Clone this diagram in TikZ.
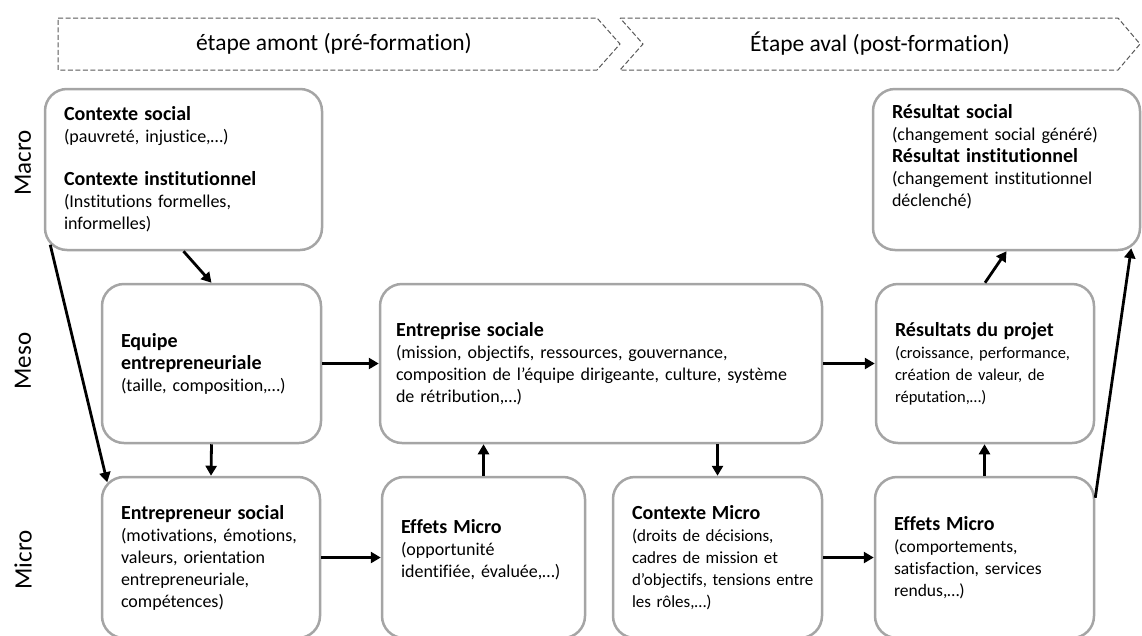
\documentclass[tikz,border=0pt]{standalone}
\usepackage{fontspec}
\setmainfont{Carlito}[Ligatures={NoCommon}]
\usetikzlibrary{arrows.meta}
\definecolor{boxgray}{HTML}{A5A5A5}
\definecolor{dashgray}{HTML}{595959}
\newcommand{\ttl}[1]{{\fontsize{20}{24}\selectfont\bfseries #1}}
\begin{document}
\begin{tikzpicture}[x=1pt,y=-1pt,
  box/.style={draw=boxgray, line width=2.5pt, rounded corners=22pt, fill=white,
    align=left, inner xsep=19pt, inner ysep=0pt,
    font=\fontsize{18}{22}\selectfont},
  arr/.style={line width=2.8pt, -{Triangle[length=10pt,width=11pt]}},
  phase/.style={draw=dashgray, line width=1pt, dash pattern=on 5pt off 2.5pt},
  lvl/.style={rotate=90, font=\fontsize{25}{30}\selectfont},
  phtext/.style={font=\fontsize{23.5}{28}\selectfont}]
\useasboundingbox (0,0) rectangle (1142,635);

% phase chevrons
\draw[phase] (58,18) -- (597,18) -- (620,44) -- (597,70) -- (58,70) -- cycle;
\draw[phase] (620,18) -- (1118,18) -- (1140,44) -- (1118,70) -- (620,70) -- (643,44) -- cycle;
\node[phtext] (amont) at (334,44) {étape amont (pré-formation)};
\node[phtext] (aval) at (880,44) {Étape aval (post-formation)};

% level labels
\node[lvl] (macro) at (23,163) {Macro};
\node[lvl] (meso) at (23,361) {Meso};
\node[lvl] (micro) at (23,560) {Micro};

% macro
\node[box, minimum width=277pt, text width=239pt, minimum height=161pt] (ctx) at (183.5,169.5)
  {\ttl{Contexte social}\\(pauvreté, injustice,…)\\[21pt]\ttl{Contexte institutionnel}\\(Institutions formelles,\\informelles)};
\node[box, minimum width=267pt, text width=229pt, minimum height=161pt] (res) at (1006.5,169.5)
  {\ttl{Résultat social}\\(changement social généré)\\\ttl{Résultat institutionnel}\\(changement institutionnel\\déclenché)\\\strut};

% meso
\node[box, minimum width=219pt, text width=181pt, minimum height=159pt] (equipe) at (211.5,363.5)
  {\ttl{Equipe}\\\ttl{entrepreneuriale}\\(taille, composition,…)};
\node[box, minimum width=442pt, text width=410pt, inner xsep=16pt, minimum height=159pt] (entreprise) at (601,363.5)
  {\ttl{Entreprise sociale}\\(mission, objectifs, ressources, gouvernance,\\composition de l’équipe dirigeante, culture, système\\de rétribution,…)};
\node[box, minimum width=218pt, text width=180pt, minimum height=159pt, font=\fontsize{16.5}{22}\selectfont] (resproj) at (985,363.5)
  {\ttl{Résultats du projet}\\(croissance, performance,\\création de valeur, de\\réputation,…)};

% micro
\node[box, minimum width=218pt, text width=180pt, minimum height=161pt] (entrep) at (211,557.5)
  {\ttl{Entrepreneur social}\\(motivations, émotions,\\valeurs, orientation\\entrepreneuriale,\\compétences)};
\node[box, minimum width=203pt, text width=165pt, minimum height=161pt] (eff1) at (483.5,557.5)
  {\ttl{Effets Micro}\\(opportunité\\identifiée, évaluée,…)\\[-10pt]\strut};
\node[box, minimum width=209pt, text width=171pt, minimum height=161pt, font=\fontsize{17}{22}\selectfont] (ctxmicro) at (717.5,557.5)
  {\ttl{Contexte Micro}\\(droits de décisions,\\cadres de mission et\\\mbox{d’objectifs, tensions entre}\\les rôles,…)};
\node[box, minimum width=219pt, text width=181pt, minimum height=161pt, font=\fontsize{17.5}{22}\selectfont] (eff2) at (984.5,557.5)
  {\ttl{Effets Micro}\\(comportements,\\satisfaction, services\\rendus,…)};

% connectors
\draw[arr] (ctx.south) -- (equipe.north);
\draw[arr] ([shift={(6.5,-6.5)}]ctx.south west) -- ([shift={(6.5,6.5)}]entrep.north west);
\draw[arr] (equipe.south) -- (entrep.north);
\draw[arr] (equipe.east) -- (entreprise.west);
\draw[arr] (entreprise.east) -- (resproj.west);
\draw[arr] (eff1.north) -- (eff1.north |- entreprise.south);
\draw[arr] (ctxmicro.north |- entreprise.south) -- (ctxmicro.north);
\draw[arr] (entrep.east) -- (eff1.west);
\draw[arr] (ctxmicro.east) -- (eff2.west);
\draw[arr] (eff2.north) -- (eff2.north |- resproj.south);
\draw[arr] (resproj.north) -- (res.south);
\draw[arr] ([shift={(0,22)}]eff2.north east) -- ([shift={(-10,-3)}]res.south east);
\end{tikzpicture}
\end{document}
